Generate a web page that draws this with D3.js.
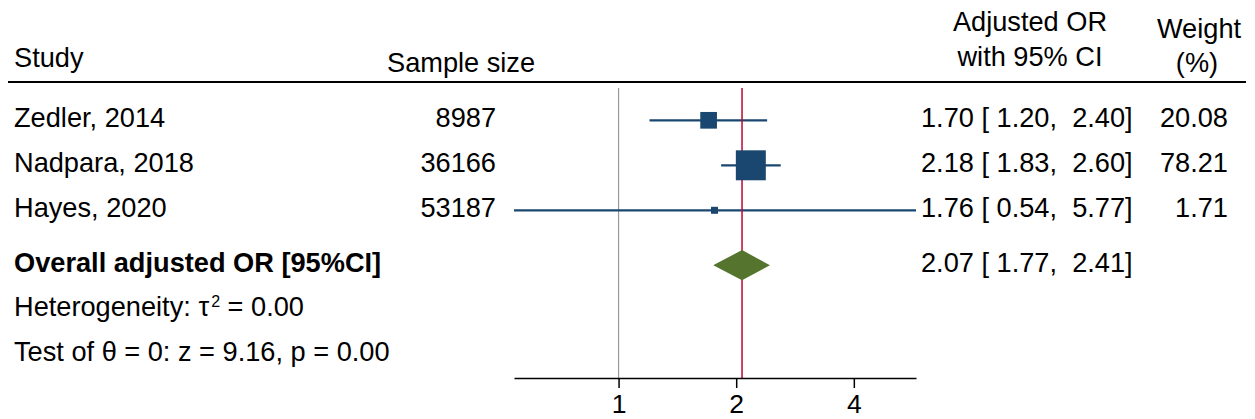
<!DOCTYPE html>
<html><head><meta charset="utf-8">
<script src="https://cdn.jsdelivr.net/npm/d3@7"></script>
<style>
body{margin:0;background:#fff}
svg text{font-family:"Liberation Sans",Arial,Helvetica,sans-serif;font-size:27.2px;fill:#000;white-space:pre}
</style>
</head><body><svg id="c" width="1255" height="419"></svg>
<script>
// ---- data ----
const studies = ["Zedler, 2014", "Nadpara, 2018", "Hayes, 2020"];
const sampleSizes = [8987, 36166, 53187];
const oddsRatios = [1.70, 2.18, 1.76];
const lowerCI = [1.20, 1.83, 0.54];
const upperCI = [2.40, 2.60, 5.77];
const weights = [20.08, 78.21, 1.71];
const overallOR = 2.07, overallLower = 1.77, overallUpper = 2.41;
const tickValues = [1, 2, 4];
const heterogeneityText = ["Heterogeneity: τ", "2", " = 0.00"];
const testText = "Test of θ = 0: z = 9.16, p = 0.00";
const overallLabel = "Overall adjusted OR [95%CI]";

// ---- layout ----
const svg = d3.select("#c");
const x = d3.scaleLog().base(2).domain([0.54, 5.77]).range([514, 916]);
const rowY = d3.scaleLinear().domain([0, 1]).range([120.3, 165.3]);
const overallRow = 3.22, hetRow = 4.21, testRow = 5.2;
const axisY = 378, lineTop = 88;
const size = d3.scaleSqrt().domain([0, 100]).range([3, 33.5]);
const blue = "#1a476f", green = "#55752f", red = "#c10534";
const base = 6.5; // baseline offset from row centre

// header
svg.append("text").attr("x", 14).attr("y", 67).text("Study");
svg.append("text").attr("x", 387).attr("y", 72).text("Sample size");
svg.append("text").attr("x", 1030).attr("y", 31).attr("text-anchor", "middle").text("Adjusted OR");
svg.append("text").attr("x", 1030).attr("y", 66).attr("text-anchor", "middle").text("with 95% CI");
svg.append("text").attr("x", 1199).attr("y", 38).attr("text-anchor", "middle").text("Weight");
svg.append("text").attr("x", 1197).attr("y", 72).attr("text-anchor", "middle").text("(%)");
svg.append("line").attr("x1", 8).attr("x2", 1246).attr("y1", 82).attr("y2", 82)
  .attr("stroke", "#000").attr("stroke-width", 2.2);

// reference lines
svg.append("line").attr("x1", x(1)).attr("x2", x(1)).attr("y1", lineTop).attr("y2", axisY)
  .attr("stroke", "#9a9a9a").attr("stroke-width", 1.2);

// CI lines
svg.selectAll(".ci").data(studies).join("line").attr("class", "ci")
  .attr("x1", (d, i) => x(lowerCI[i])).attr("x2", (d, i) => x(upperCI[i]))
  .attr("y1", (d, i) => rowY(i)).attr("y2", (d, i) => rowY(i))
  .attr("stroke", blue).attr("stroke-width", 2.2);

svg.append("line").attr("x1", x(overallOR)).attr("x2", x(overallOR)).attr("y1", lineTop).attr("y2", axisY)
  .attr("stroke", red).attr("stroke-width", 1.5);

// squares
svg.selectAll(".sq").data(studies).join("rect").attr("class", "sq")
  .attr("x", (d, i) => x(oddsRatios[i]) - size(weights[i]) / 2)
  .attr("y", (d, i) => rowY(i) - size(weights[i]) / 2)
  .attr("width", (d, i) => size(weights[i]))
  .attr("height", (d, i) => size(weights[i]))
  .attr("fill", blue);

// diamond
const cy = rowY(overallRow);
svg.append("polygon")
  .attr("points", [[x(overallLower), cy], [x(overallOR), cy - 14], [x(overallUpper), cy], [x(overallOR), cy + 14]].map(p => p.join(",")).join(" "))
  .attr("fill", green).attr("stroke", green).attr("stroke-width", 2).attr("stroke-linejoin", "miter");

// row texts
svg.selectAll(".st").data(studies).join("text").attr("class", "st")
  .attr("x", 14).attr("y", (d, i) => rowY(i) + base).text(d => d);
svg.selectAll(".ss").data(sampleSizes).join("text").attr("class", "ss")
  .attr("x", 496).attr("y", (d, i) => rowY(i) + base).attr("text-anchor", "end").text(d => d);
const fmt = d3.format(".2f");
svg.selectAll(".cit").data(studies).join("text").attr("class", "cit")
  .attr("x", 921).attr("y", (d, i) => rowY(i) + base)
  .text((d, i) => `${fmt(oddsRatios[i])} [ ${fmt(lowerCI[i])},  ${fmt(upperCI[i])}]`);
svg.selectAll(".wt").data(weights).join("text").attr("class", "wt")
  .attr("x", 1228).attr("y", (d, i) => rowY(i) + base).attr("text-anchor", "end").text(d => fmt(d));

svg.append("text").attr("x", 14).attr("y", cy + base).attr("font-weight", "bold").text(overallLabel);
svg.append("text").attr("x", 921).attr("y", cy + base)
  .text(`${fmt(overallOR)} [ ${fmt(overallLower)},  ${fmt(overallUpper)}]`);

const het = svg.append("text").attr("x", 14).attr("y", rowY(hetRow) + base);
het.append("tspan").text(heterogeneityText[0]);
het.append("tspan").attr("font-size", "16px").attr("dy", -9).attr("dx", 2).text(heterogeneityText[1]);
het.append("tspan").attr("dy", 9).text(heterogeneityText[2]);
svg.append("text").attr("x", 14).attr("y", rowY(testRow) + base).text(testText);

// axis
const axis = d3.axisBottom(x).tickValues(tickValues).tickFormat(d3.format("d"))
  .tickSize(10).tickSizeOuter(0).tickPadding(6.5);
const g = svg.append("g").attr("transform", `translate(0,${axisY})`).call(axis);
g.select(".domain").attr("stroke", "#000").attr("stroke-width", 1.5);
g.selectAll(".tick line").attr("stroke", "#000").attr("stroke-width", 1.5);
g.selectAll(".tick text").attr("font-family", null).attr("font-size", null).style("font-size", "26.5px").style("fill", "#000");
</script></body></html>
